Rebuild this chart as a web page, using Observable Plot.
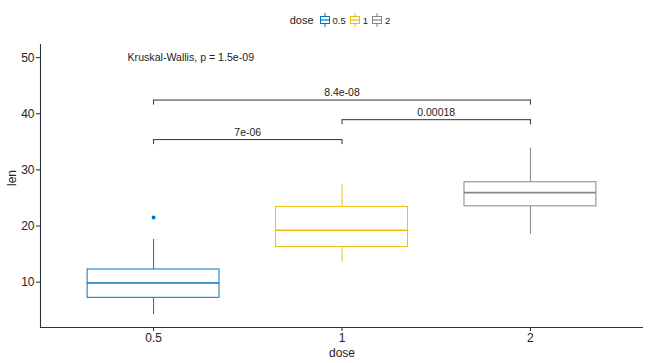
<!DOCTYPE html>
<html>
<head>
<meta charset="utf-8">
<script src="https://cdn.jsdelivr.net/npm/d3@7"></script>
<script src="https://cdn.jsdelivr.net/npm/@observablehq/plot@0.6"></script>
<style>
  html, body { margin: 0; padding: 0; background: #fff; }
  body { width: 650px; height: 363px; overflow: hidden; font-family: "Liberation Sans", Arial, sans-serif; }
  #legend { height: 38px; box-sizing: border-box; padding-left: 40px; padding-right: 7px; display: flex; justify-content: center; align-items: center; padding-top: 2px; color: #222; }
  #legend .title { font-size: 11px; margin-right: 5px; }
  #legend .item { display: flex; align-items: center; margin-right: 3px; font-size: 9.5px; }
  #legend .item svg { margin-right: 2px; }
</style>
</head>
<body>
<div id="legend"></div>
<div id="chart"></div>
<script>
// Data (ToothGrowth len by dose, box summaries)
const doses = ["0.5", "1", "2"];
const colors = ["#0073C2", "#EFC000", "#868686"];
const lowerWhisker = [4.2, 13.6, 18.5];
const q1 = [7.2, 16.25, 23.5];
const medians = [9.85, 19.25, 25.95];
const q3 = [12.25, 23.4, 27.8];
const upperWhisker = [17.6, 27.3, 33.9];
const outlierDose = ["0.5"];
const outlierLen = [21.5];

// Pairwise comparisons
const compFrom = ["0.5", "1", "0.5"];
const compTo = ["1", "2", "2"];
const compY = [35.4, 38.95, 42.45];
const compLabel = ["7e-06", "0.00018", "8.4e-08"];

const globalLabel = "Kruskal-Wallis, p = 1.5e-09";
const globalY = 50;
const yTicks = [10, 20, 30, 40, 50];

// tables
const idx = d => doses.indexOf(d);
const boxes = doses.map((d, i) => ({
  i, dose: d, lo: lowerWhisker[i], q1: q1[i], med: medians[i], q3: q3[i], hi: upperWhisker[i]
}));
const outliers = outlierDose.map((d, k) => ({ i: idx(d), dose: d, len: outlierLen[k] }));
const comps = compLabel.map((l, k) => ({ a: idx(compFrom[k]), b: idx(compTo[k]), y: compY[k], label: l }));
const tips = comps.flatMap(c => [{ x: c.a, y: c.y }, { x: c.b, y: c.y }]);

const half = 0.35;
const tip = 0.9;
const yDomain = [1.91, 52.35];
const xDomain = [-0.6, 2.6];

const chart = Plot.plot({
  width: 650,
  height: 325,
  marginLeft: 40,
  marginRight: 7,
  marginTop: 6,
  marginBottom: 36,
  style: { fontFamily: "Liberation Sans, Arial, sans-serif", fontSize: "12px", color: "#222", background: "white" },
  x: { domain: xDomain, ticks: [0, 1, 2], tickFormat: i => doses[i], tickSize: 4, tickPadding: 2, label: null },
  y: { domain: yDomain, ticks: yTicks, tickSize: 4, tickPadding: 2, label: null },
  color: { domain: doses, range: colors },
  marks: [
    // axis lines
    Plot.ruleX([xDomain[0]], { stroke: "#333", strokeWidth: 1.1 }),
    Plot.ruleY([yDomain[0]], { stroke: "#333", strokeWidth: 1.1 }),
    // whiskers
    Plot.ruleX(boxes, { x: "i", y1: "lo", y2: "q1", stroke: "dose", strokeWidth: 1 }),
    Plot.ruleX(boxes, { x: "i", y1: "q3", y2: "hi", stroke: "dose", strokeWidth: 1 }),
    // boxes
    Plot.rect(boxes, { x1: d => d.i - half, x2: d => d.i + half, y1: "q1", y2: "q3", fill: "white", stroke: "dose", strokeWidth: 1 }),
    // medians
    Plot.ruleY(boxes, { y: "med", x1: d => d.i - half, x2: d => d.i + half, stroke: "dose", strokeWidth: 1.6 }),
    // outliers
    Plot.dot(outliers, { x: "i", y: "len", fill: "dose", r: 2, stroke: null }),
    // brackets
    Plot.link(comps, { x1: "a", x2: "b", y1: "y", y2: "y", stroke: "#333", strokeWidth: 1 }),
    Plot.ruleX(tips, { x: "x", y1: d => d.y - tip, y2: "y", stroke: "#333", strokeWidth: 1 }),
    Plot.text(comps, { x: d => (d.a + d.b) / 2, y: "y", text: "label", dy: -7, fontSize: 10.5, fill: "#222" }),
    // global test
    Plot.text([globalLabel], { x: -0.138, y: globalY, text: d => d, textAnchor: "start", fontSize: 10.6, fill: "#222" }),
    // axis titles
    Plot.text(["len"], { frameAnchor: "left", dx: -28, rotate: -90, text: d => d, fontSize: 12, fill: "#222" }),
    Plot.text(["dose"], { frameAnchor: "bottom", dy: 29, text: d => d, fontSize: 12, fill: "#222" })
  ]
});
document.getElementById("chart").appendChild(chart);

// legend
const legend = document.getElementById("legend");
const t = document.createElement("span");
t.className = "title";
t.textContent = "dose";
legend.appendChild(t);
doses.forEach((d, i) => {
  const item = document.createElement("span");
  item.className = "item";
  const c = colors[i];
  item.innerHTML = `<svg width="12" height="16" viewBox="0 0 12 16">
    <line x1="6" y1="1" x2="6" y2="4.5" stroke="${c}" stroke-width="1"/>
    <line x1="6" y1="11.5" x2="6" y2="15" stroke="${c}" stroke-width="1"/>
    <rect x="1.5" y="4.5" width="9" height="7" fill="white" stroke="${c}" stroke-width="1"/>
    <line x1="1.5" y1="8" x2="10.5" y2="8" stroke="${c}" stroke-width="1.2"/>
  </svg><span>${d}</span>`;
  legend.appendChild(item);
});
</script>
</body>
</html>
